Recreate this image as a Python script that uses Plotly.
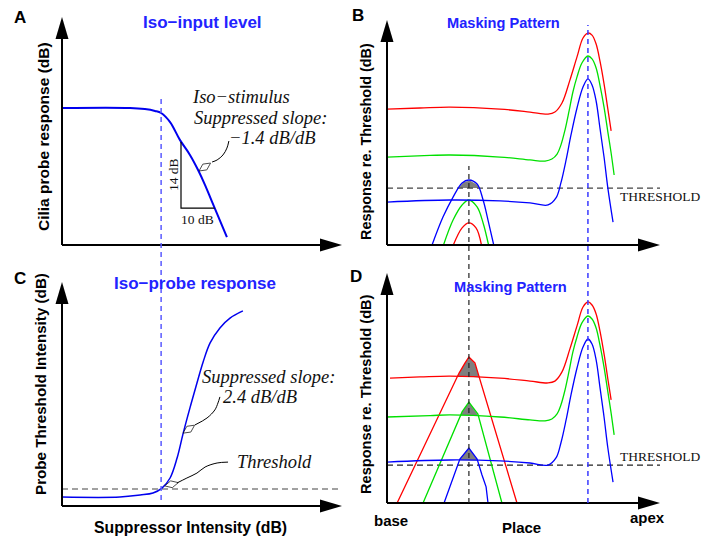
import numpy as np
import plotly.graph_objects as go

W, H = 704, 538

# ---------------- data (schematic units, 0-100 along each panel axis) ----------------
# Panel A : iso-input level (cilia probe response vs suppressor level)
a_level = [0, 24.3, 29.6, 33.2, 35.4, 38.6, 42.1, 45.7, 48.6, 51.1, 53.6, 58.9]
a_resp = [60.1, 60.1, 59.6, 58.8, 57.9, 53.9, 46.1, 39.5, 32.9, 26.3, 18.9, 3.5]
a_tri_x = [42.5, 42.5, 54.5]
a_tri_y = [45.2, 16.2, 16.2]
a_lead_x = [59.6, 58.9, 57.5, 55.4, 53.6]
a_lead_y = [45.6, 42.5, 39.5, 37.3, 36.4]
a_head = (51.0, 34.2)
supp_level = 35.4

# Panel C : iso-probe response (probe threshold vs suppressor level)
c_level = [0, 20.7, 27.9, 32.5, 35.7, 38.6, 41.1, 43.2, 45.7, 48.2, 50.4, 52.9, 56.4, 60.0, 64.6]
c_thr = [4.0, 4.0, 4.9, 5.8, 8.0, 12.5, 21.4, 32.1, 43.8, 54.9, 64.3, 72.8, 79.5, 83.9, 87.1]
c_threshold = 7.6
c_lead1_x = [56.4, 55.7, 54.6, 51.8, 47.5]
c_lead1_y = [48.7, 46.0, 42.9, 39.3, 36.2]
c_head1 = (45.3, 34.3)
c_lead2_x = [59.3, 55.4, 51.1, 48.2, 44.6, 41.1]
c_lead2_y = [19.6, 19.2, 17.4, 14.7, 12.5, 10.3]
c_head2 = (39.1, 9.7)

# Panel B : masking pattern, probe below suppressor
place_b_red = [0, 12.1, 23.1, 41.4, 52.4, 59.0, 61.5, 64.1, 67.0, 69.6, 71.8, 73.6, 75.1, 76.6, 78.0, 79.5, 80.9, 82.1]
resp_b_red = [60.4, 60.9, 61.3, 60.4, 59.1, 58.2, 59.1, 63.1, 73.3, 83.6, 92.0, 94.2, 93.3, 89.3, 81.8, 71.6, 60.4, 50.7]
place_b_green = [0, 15.8, 23.1, 41.4, 52.4, 57.9, 60.4, 62.3, 63.7, 65.2, 66.7, 68.1, 69.6, 71.4, 73.6, 75.1, 76.6, 78.0, 79.5, 80.9, 82.1, 83.2]
resp_b_green = [39.1, 39.8, 40.0, 39.1, 37.8, 37.3, 38.2, 40.4, 44.4, 51.1, 59.6, 68.0, 74.7, 80.9, 84.0, 82.7, 78.7, 71.1, 61.3, 50.2, 40.9, 31.1]
place_b_blue = [0, 23.1, 41.4, 52.4, 59.0, 61.9, 63.7, 65.6, 67.4, 69.6, 71.8, 73.6, 75.1, 76.6, 78.0, 79.5, 80.9, 82.8]
resp_b_blue = [19.1, 20.0, 19.6, 18.7, 17.8, 20.9, 27.6, 37.8, 48.9, 60.9, 70.2, 73.8, 71.1, 64.0, 52.0, 39.1, 25.3, 10.2]
probe_b_blue_x = [16.5, 20.5, 24.2, 27.5, 30.0, 33.0, 35.2, 37.0, 39.1]
probe_b_blue_y = [0, 12.4, 21.3, 27.6, 28.9, 27.1, 20.0, 11.1, 0]
probe_b_green_x = [20.7, 24.2, 27.5, 30.0, 33.0, 35.2, 37.2]
probe_b_green_y = [0, 11.1, 17.8, 20.0, 16.9, 9.8, 0]
probe_b_red_x = [24.3, 27.5, 30.0, 32.6, 34.6]
probe_b_red_y = [0, 7.6, 9.8, 7.6, 0]
b_threshold = 25.3

# Panel D : masking pattern, probe above suppressor
place_d_red = [1.1, 12.1, 23.1, 41.4, 52.4, 59.0, 61.5, 64.1, 67.0, 69.6, 71.8, 73.6, 75.1, 76.6, 78.0, 79.5, 80.9, 82.1]
resp_d_red = [54.3, 54.8, 55.2, 54.3, 53.0, 52.2, 53.0, 57.0, 67.0, 77.0, 85.2, 87.4, 86.1, 82.2, 74.8, 64.8, 53.9, 44.8]
place_d_green = [0, 15.8, 23.1, 41.4, 52.4, 57.9, 60.4, 62.3, 63.7, 65.2, 66.7, 68.1, 69.6, 71.4, 73.6, 75.1, 76.6, 78.0, 79.5, 80.9, 82.1, 83.2]
resp_d_green = [37.4, 38.0, 38.3, 37.4, 36.1, 35.7, 36.5, 38.7, 42.6, 49.1, 57.4, 65.7, 72.2, 78.3, 81.3, 80.0, 76.1, 68.7, 59.1, 48.3, 39.1, 29.6]
place_d_blue = [0, 23.1, 41.4, 52.4, 59.0, 61.9, 63.7, 65.6, 67.4, 69.6, 71.8, 73.6, 75.1, 76.6, 78.0, 79.5, 80.9, 82.8]
resp_d_blue = [17.8, 18.7, 18.3, 17.4, 16.5, 19.6, 26.1, 36.1, 47.0, 58.7, 67.8, 71.3, 69.1, 62.2, 50.4, 37.4, 23.9, 9.1]
probe_d_red_x = [3.7, 26.4, 28.6, 30.0, 32.2, 33.3, 47.6]
probe_d_red_y = [0, 56.5, 60.9, 63.5, 60.9, 56.5, 0]
probe_d_green_x = [13.2, 27.5, 30.0, 33.3, 42.1]
probe_d_green_y = [0, 39.6, 43.9, 38.7, 0]
probe_d_blue_x = [20.9, 26.7, 30.0, 33.0, 34.8, 36.3, 37.0]
probe_d_blue_y = [0, 19.1, 23.9, 19.1, 12.2, 7.0, 0]
d_threshold = 16.5

probe_place = 30.0
supp_place = 73.6

# ---------------- style ----------------
SANS = "Liberation Sans, Arial, Helvetica, sans-serif"
SERIF = "Liberation Serif, Times New Roman, serif"
BLUE_T = "#2222ff"
RED, GREEN, BLUE = "#ff0000", "#00e000", "#0000ff"
GRAY = "#7f7f7f"

# panel boxes in pixels: (x origin, x tip), (y origin, y tip)
boxes = {
    "A": ((62, 342), (245, 17)),
    "B": ((387, 660), (245, 20)),
    "C": ((62, 342), (506, 282)),
    "D": ((387, 660), (503, 273)),
}
axes_ids = {"A": ("x", "y"), "B": ("x2", "y2"), "C": ("x3", "y3"), "D": ("x4", "y4")}


def px(x):
    return x / W


def py(y):
    return 1 - y / H


fig = go.Figure()


def add_line(ax, xs, ys, color, width, shape="spline", dash=None):
    xa, ya = axes_ids[ax]
    fig.add_trace(go.Scatter(x=xs, y=ys, mode="lines", xaxis=xa, yaxis=ya,
                             line=dict(color=color, width=width, shape=shape, dash=dash),
                             hoverinfo="skip"))


def add_fill_above(ax, cx, cy, bx, by):
    xs = np.linspace(min(cx), max(cx), 600)
    top = np.interp(xs, cx, cy)
    if np.isscalar(by):
        base = np.full_like(xs, by)
    else:
        base = np.interp(xs, bx, by)
    m = top > base
    xm = xs[m]
    poly_x = np.concatenate([xm, xm[::-1]])
    poly_y = np.concatenate([top[m], base[m][::-1]])
    xa, ya = axes_ids[ax]
    fig.add_trace(go.Scatter(x=poly_x, y=poly_y, mode="lines", fill="toself",
                             fillcolor=GRAY, line=dict(width=0), xaxis=xa, yaxis=ya,
                             hoverinfo="skip"))


def add_head(ax, lead_x, lead_y, head):
    xa, ya = axes_ids[ax]
    fig.add_trace(go.Scatter(x=[lead_x[-1], head[0]], y=[lead_y[-1], head[1]], mode="markers",
                             xaxis=xa, yaxis=ya, hoverinfo="skip",
                             marker=dict(symbol="diamond-tall", size=[0, 10],
                                         color=["rgba(0,0,0,0)", "white"],
                                         line=dict(color="black", width=[0, 1]),
                                         angleref="previous")))


# Panel A
add_line("A", a_level, a_resp, "#0000ee", 2)
add_line("A", a_tri_x, a_tri_y, "black", 1.2, shape="linear")
add_line("A", a_lead_x, a_lead_y, "black", 1)
add_head("A", a_lead_x, a_lead_y, a_head)

# Panel C
add_line("C", [0, 100], [c_threshold, c_threshold], "#444444", 1.2, shape="linear", dash="6px,4px")
add_line("C", c_level, c_thr, "#0000ee", 1.5)
add_line("C", c_lead1_x, c_lead1_y, "black", 1)
add_head("C", c_lead1_x, c_lead1_y, c_head1)
add_line("C", c_lead2_x, c_lead2_y, "black", 1)
add_head("C", c_lead2_x, c_lead2_y, c_head2)

# Panel B
add_fill_above("B", probe_b_blue_x, probe_b_blue_y, None, b_threshold)
add_line("B", [0, 100], [b_threshold, b_threshold], "#444444", 1.2, shape="linear", dash="6px,4px")
add_line("B", probe_b_red_x, probe_b_red_y, RED, 1.3)
add_line("B", probe_b_green_x, probe_b_green_y, GREEN, 1.3)
add_line("B", probe_b_blue_x, probe_b_blue_y, BLUE, 1.3)
add_line("B", place_b_red, resp_b_red, RED, 1.3)
add_line("B", place_b_green, resp_b_green, GREEN, 1.3)
add_line("B", place_b_blue, resp_b_blue, BLUE, 1.3)

# Panel D
add_fill_above("D", probe_d_red_x, probe_d_red_y, place_d_red, resp_d_red)
add_fill_above("D", probe_d_green_x, probe_d_green_y, place_d_green, resp_d_green)
add_fill_above("D", probe_d_blue_x, probe_d_blue_y, place_d_blue, resp_d_blue)
add_line("D", [0, 100], [d_threshold, d_threshold], "#222222", 1.2, shape="linear", dash="6px,4px")
add_line("D", probe_d_red_x, probe_d_red_y, RED, 1.3, shape="linear")
add_line("D", probe_d_green_x, probe_d_green_y, GREEN, 1.3, shape="linear")
add_line("D", probe_d_blue_x, probe_d_blue_y, BLUE, 1.3, shape="linear")
add_line("D", place_d_red, resp_d_red, RED, 1.3)
add_line("D", place_d_green, resp_d_green, GREEN, 1.3)
add_line("D", place_d_blue, resp_d_blue, BLUE, 1.3)

# ---------------- axes, arrows, reference lines ----------------
layout_axes = {}
shapes = []
for key, ((x0, x1), (y0, y1)) in boxes.items():
    xa, ya = axes_ids[key]
    xname = "xaxis" + xa[1:]
    yname = "yaxis" + ya[1:]
    layout_axes[xname] = dict(domain=[px(x0), px(x1)], range=[0, 100], visible=False,
                              anchor=ya, fixedrange=True)
    layout_axes[yname] = dict(domain=[py(y0), py(y1)], range=[0, 100], visible=False,
                              anchor=xa, fixedrange=True)
    xlen, ylen = x1 - x0, y0 - y1
    shapes.append(dict(type="line", xref=xa + " domain", yref=ya + " domain",
                       x0=0, x1=1 - 12 / xlen, y0=0, y1=0, line=dict(color="black", width=2)))
    shapes.append(dict(type="line", xref=xa + " domain", yref=ya + " domain",
                       x0=0, x1=0, y0=0, y1=1 - 12 / ylen, line=dict(color="black", width=2)))
    up = [(x0, y1), (x0 - 6.5, y1 + 22), (x0 + 6.5, y1 + 22)]
    rt = [(x1, y0), (x1 - 22, y0 - 6.5), (x1 - 22, y0 + 6.5)]
    for tri in (up, rt):
        path = "M " + " L ".join(f"{px(a):.5f},{py(b):.5f}" for a, b in tri) + " Z"
        shapes.append(dict(type="path", xref="paper", yref="paper", path=path,
                           fillcolor="black", line=dict(width=0)))

# vertical dashed reference lines spanning the upper and lower panels
shapes.append(dict(type="line", xref="x", yref="paper", x0=supp_level, x1=supp_level,
                   y0=py(500), y1=py(97), line=dict(color="#5a5aff", width=1.5, dash="5px,4px")))
shapes.append(dict(type="line", xref="x2", yref="paper", x0=probe_place, x1=probe_place,
                   y0=py(503), y1=py(166), line=dict(color="#222222", width=1.2, dash="5px,4px")))
shapes.append(dict(type="line", xref="x2", yref="paper", x0=supp_place, x1=supp_place,
                   y0=py(503), y1=py(25), line=dict(color="#3a3aff", width=1.5, dash="5px,4px")))

# ---------------- text ----------------
texts = [
    ("<b>A</b>", 20, 17, 17, SANS, "black", 0),
    ("<b>B</b>", 358, 16, 17, SANS, "black", 0),
    ("<b>C</b>", 20, 278, 17, SANS, "black", 0),
    ("<b>D</b>", 356, 276, 17, SANS, "black", 0),
    ("<b>Iso\u2212input level</b>", 202, 22, 17, SANS, BLUE_T, 0),
    ("<b>Masking Pattern</b>", 503, 23, 14.6, SANS, BLUE_T, 0),
    ("<b>Iso\u2212probe response</b>", 195, 283, 17, SANS, BLUE_T, 0),
    ("<b>Masking Pattern</b>", 510, 287, 14.6, SANS, BLUE_T, 0),
    ("<b>Cilia probe response (dB)</b>", 43, 137, 15.5, SANS, "black", -90),
    ("<b>Response re. Threshold (dB)</b>", 366, 142, 14.4, SANS, "black", -90),
    ("<b>Probe Threshold Intensity (dB)</b>", 40, 384, 15.2, SANS, "black", -90),
    ("<b>Response re. Threshold (dB)</b>", 366, 394, 14.6, SANS, "black", -90),
    ("<b>Suppressor Intensity (dB)</b>", 190, 527, 15.8, SANS, "black", 0),
    ("<b>base</b>", 391, 520, 15, SANS, "black", 0),
    ("<b>Place</b>", 521, 527, 15, SANS, "black", 0),
    ("<b>apex</b>", 647, 517, 15, SANS, "black", 0),
    ("<i>Iso\u2212stimulus</i>", 241, 97, 18.5, SERIF, "#111111", 0),
    ("<i>Suppressed slope:</i>", 260, 118, 18.5, SERIF, "#111111", 0),
    ("<i>\u22121.4 dB/dB</i>", 272, 138, 18.5, SERIF, "#111111", 0),
    ("14 dB", 173, 175, 13.5, SERIF, "#111111", -90),
    ("10 dB", 197, 219, 13.5, SERIF, "#111111", 0),
    ("<i>Suppressed slope:</i>", 268, 377, 18.5, SERIF, "#111111", 0),
    ("<i>2.4 dB/dB</i>", 260, 397, 18.5, SERIF, "#111111", 0),
    ("<i>Threshold</i>", 274, 462, 18.5, SERIF, "#111111", 0),
    ("THRESHOLD", 660, 196, 13.5, SERIF, "#111111", 0),
    ("THRESHOLD", 660, 456, 13.5, SERIF, "#111111", 0),
]
annotations = [dict(text=t, x=px(x), y=py(y), xref="paper", yref="paper", showarrow=False,
                    xanchor="center", yanchor="middle", textangle=ang,
                    font=dict(family=fam, size=sz, color=col))
               for t, x, y, sz, fam, col, ang in texts]

fig.update_layout(width=W, height=H, margin=dict(l=0, r=0, t=0, b=0),
                  paper_bgcolor="white", plot_bgcolor="rgba(0,0,0,0)",
                  showlegend=False, shapes=shapes, annotations=annotations,
                  **layout_axes)

# remove the default 8px page margin so the figure sits at the window's corner
fig.write_html("out.html", config={"displayModeBar": False},
               post_script="document.body.style.margin='0';document.body.style.padding='0';")
